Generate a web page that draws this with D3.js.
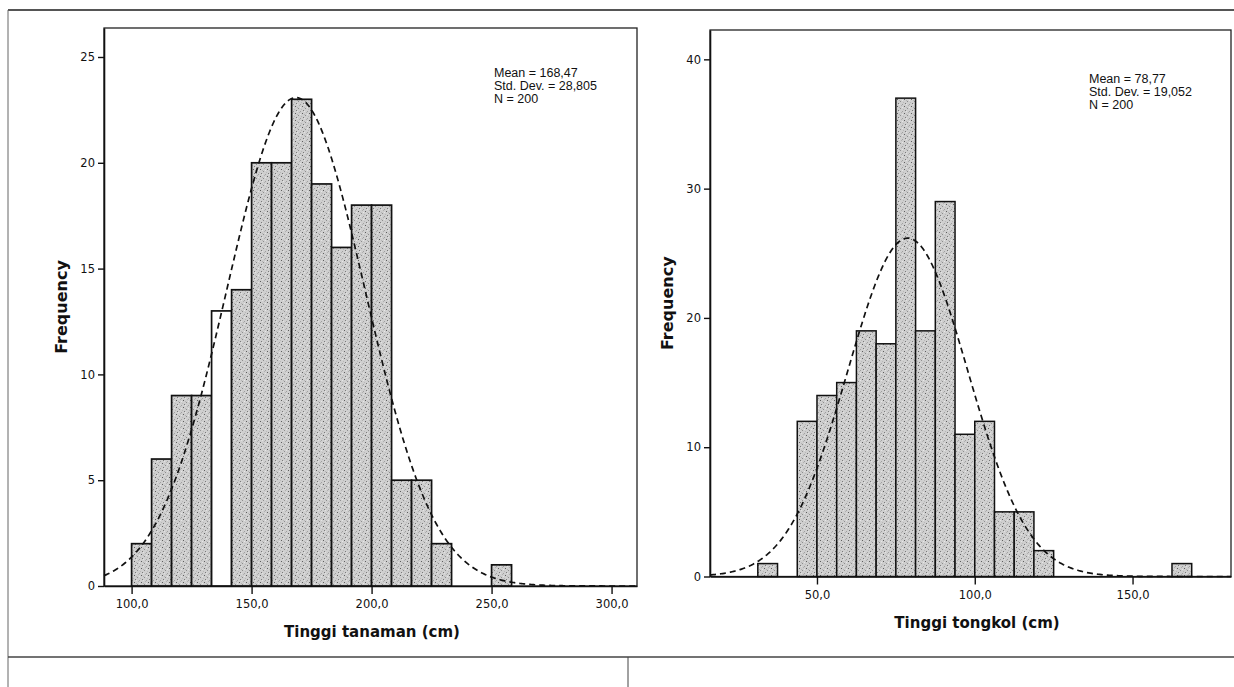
<!DOCTYPE html>
<html><head><meta charset="utf-8">
<script src="https://cdn.jsdelivr.net/npm/d3@7"></script>
<style>body{margin:0;background:#fff}svg{display:block}</style>
</head><body><svg id="c" width="1234" height="687"></svg>
<script>
// ---------- DATA ----------
// Left: Tinggi tanaman (cm)
const leftBinLower = [100, 108.33, 116.67, 125, 133.33, 141.67, 150, 158.33, 166.67, 175, 183.33, 191.67, 200, 208.33, 216.67, 225, 250];
const leftCounts   = [2, 6, 9, 9, 13, 14, 20, 20, 23, 19, 16, 18, 18, 5, 5, 2, 1];
const leftBinWidth = 8.333;
const leftXTicks = [100, 150, 200, 250, 300];
const leftYTicks = [0, 5, 10, 15, 20, 25];
const leftStats = {mean: 168.47, sd: 28.805, n: 200};
const leftStatLines = ["Mean = 168,47", "Std. Dev. = 28,805", "N = 200"];
const leftTitle = "Tinggi tanaman (cm)";

// Right: Tinggi tongkol (cm)
const rightBinLower = [31.25, 43.75, 50, 56.25, 62.5, 68.75, 75, 81.25, 87.5, 93.75, 100, 106.25, 112.5, 118.75, 162.5];
const rightCounts   = [1, 12, 14, 15, 19, 18, 37, 19, 29, 11, 12, 5, 5, 2, 1];
const rightBinWidth = 6.25;
const rightXTicks = [50, 100, 150];
const rightYTicks = [0, 10, 20, 30, 40];
const rightStats = {mean: 78.77, sd: 19.052, n: 200};
const rightStatLines = ["Mean = 78,77", "Std. Dev. = 19,052", "N = 200"];
const rightTitle = "Tinggi tongkol (cm)";

const yTitle = "Frequency";
// white (unfilled) bar in the left histogram
const leftWhiteBars = [4];

// ---------- DRAW ----------
const svg = d3.select("#c");
const defs = svg.append("defs");
const pat = defs.append("pattern").attr("id", "stip").attr("patternUnits", "userSpaceOnUse")
  .attr("width", 7).attr("height", 7);
pat.append("rect").attr("width", 7).attr("height", 7).attr("fill", "#cfcfcf");
[[1,1,"#5e5e5e"],[4,3,"#8e8e8e"],[2,5,"#7a7a7a"],[6,6,"#a0a0a0"],[5,0,"#b0b0b0"],[0,4,"#b8b8b8"],[3,2,"#b5b5b5"],[6,2,"#e6e6e6"],[3,6,"#e2e2e2"]]
  .forEach(d => pat.append("rect").attr("x", d[0]).attr("y", d[1]).attr("width", 1).attr("height", 1).attr("fill", d[2]));

// outer frame lines
svg.append("line").attr("x1", 8).attr("x2", 1234).attr("y1", 10).attr("y2", 10).attr("stroke", "#555").attr("stroke-width", 2);
svg.append("line").attr("x1", 8).attr("x2", 8).attr("y1", 10).attr("y2", 687).attr("stroke", "#666").attr("stroke-width", 1);
svg.append("line").attr("x1", 8).attr("x2", 1234).attr("y1", 657).attr("y2", 657).attr("stroke", "#444").attr("stroke-width", 1.5);
svg.append("line").attr("x1", 628).attr("x2", 628).attr("y1", 657).attr("y2", 687).attr("stroke", "#444").attr("stroke-width", 1);

const fmt = d => d3.format(".1f")(d).replace(".", ",");

function panel(cfg) {
  const x = d3.scaleLinear().domain(cfg.xDomain).range([cfg.left, cfg.right]);
  const y = d3.scaleLinear().domain(cfg.yDomain).range([cfg.bottom, cfg.top]);
  const g = svg.append("g");

  // frame
  g.append("rect").attr("x", cfg.left).attr("y", cfg.top)
    .attr("width", cfg.right - cfg.left).attr("height", cfg.bottom - cfg.top)
    .attr("fill", "none").attr("stroke", "#222").attr("stroke-width", 1.3);

  // bars
  g.selectAll("rect.bar").data(cfg.lower.map((l, i) => ({l, c: cfg.counts[i], i})))
    .join("rect").attr("class", "bar")
    .attr("x", d => x(d.l))
    .attr("y", d => y(d.c))
    .attr("width", d => x(d.l + cfg.bw) - x(d.l))
    .attr("height", d => y(0) - y(d.c))
    .attr("fill", d => (cfg.white || []).includes(d.i) ? "#fff" : "url(#stip)")
    .attr("stroke", "#111").attr("stroke-width", cfg.barStroke);

  // normal curve fitted from the stated mean / std. dev.
  const s = cfg.stats;
  const k = s.n * cfg.bw / (s.sd * Math.sqrt(2 * Math.PI));
  const xs = d3.range(cfg.xDomain[0], cfg.xDomain[1], 0.5).concat([cfg.xDomain[1]]);
  const line = d3.line().x(v => x(v)).y(v => y(k * Math.exp(-0.5 * Math.pow((v - s.mean) / s.sd, 2))));
  g.append("path").attr("d", line(xs)).attr("fill", "none").attr("stroke", "#111")
    .attr("stroke-width", 1.7).attr("stroke-dasharray", "6,4");

  // axes
  const ax = g.append("g").attr("transform", `translate(0,${cfg.bottom})`)
    .call(d3.axisBottom(x).tickValues(cfg.xTicks).tickFormat(fmt).tickSize(8).tickPadding(6).tickSizeOuter(0));
  const ay = g.append("g").attr("transform", `translate(${cfg.left},0)`)
    .call(d3.axisLeft(y).tickValues(cfg.yTicks).tickSize(6).tickPadding(3).tickSizeOuter(0));
  [ax, ay].forEach(a => {
    a.select(".domain").attr("stroke", "#111").attr("stroke-width", 1.6);
    a.selectAll(".tick line").attr("stroke", "#111").attr("stroke-width", 1.4);
    a.selectAll(".tick text").attr("fill", "#111").style("font-family", "DejaVu Sans").style("font-size", "11.5px");
  });

  // titles
  g.append("text").attr("x", cfg.xTitleX).attr("y", cfg.xTitleY).attr("text-anchor", "middle")
    .style("font-family", "DejaVu Sans").style("font-weight", "bold").style("font-size", "15px")
    .attr("fill", "#111").text(cfg.title);
  g.append("text").attr("transform", `translate(${cfg.yTitleX},${(cfg.top + cfg.bottom) / 2}) rotate(-90)`)
    .attr("text-anchor", "middle")
    .style("font-family", "DejaVu Sans").style("font-weight", "bold").style("font-size", "16px")
    .attr("fill", "#111").text(yTitle);

  // stats box
  g.selectAll("text.stat").data(cfg.statLines).join("text").attr("class", "stat")
    .attr("x", cfg.statX).attr("y", (d, i) => cfg.statY + i * 13)
    .style("font-family", "Liberation Sans, Arial").style("font-size", "12.5px")
    .attr("fill", "#111").text(d => d);
}

panel({
  lower: leftBinLower, counts: leftCounts, bw: leftBinWidth, white: leftWhiteBars,
  xDomain: [88.5, 310.6], yDomain: [0, 26.37],
  left: 104, right: 637, top: 28, bottom: 586,
  xTicks: leftXTicks, yTicks: leftYTicks, stats: leftStats, statLines: leftStatLines,
  statX: 494, statY: 77, title: leftTitle, xTitleX: 372, xTitleY: 637, yTitleX: 67,
  barStroke: 1.7
});
panel({
  lower: rightBinLower, counts: rightCounts, bw: rightBinWidth,
  xDomain: [16.1, 181.2], yDomain: [0, 42.27],
  left: 710, right: 1231, top: 30, bottom: 576.5,
  xTicks: rightXTicks, yTicks: rightYTicks, stats: rightStats, statLines: rightStatLines,
  statX: 1089, statY: 83, title: rightTitle, xTitleX: 977, xTitleY: 628, yTitleX: 673,
  barStroke: 1.5
});
</script></body></html>
